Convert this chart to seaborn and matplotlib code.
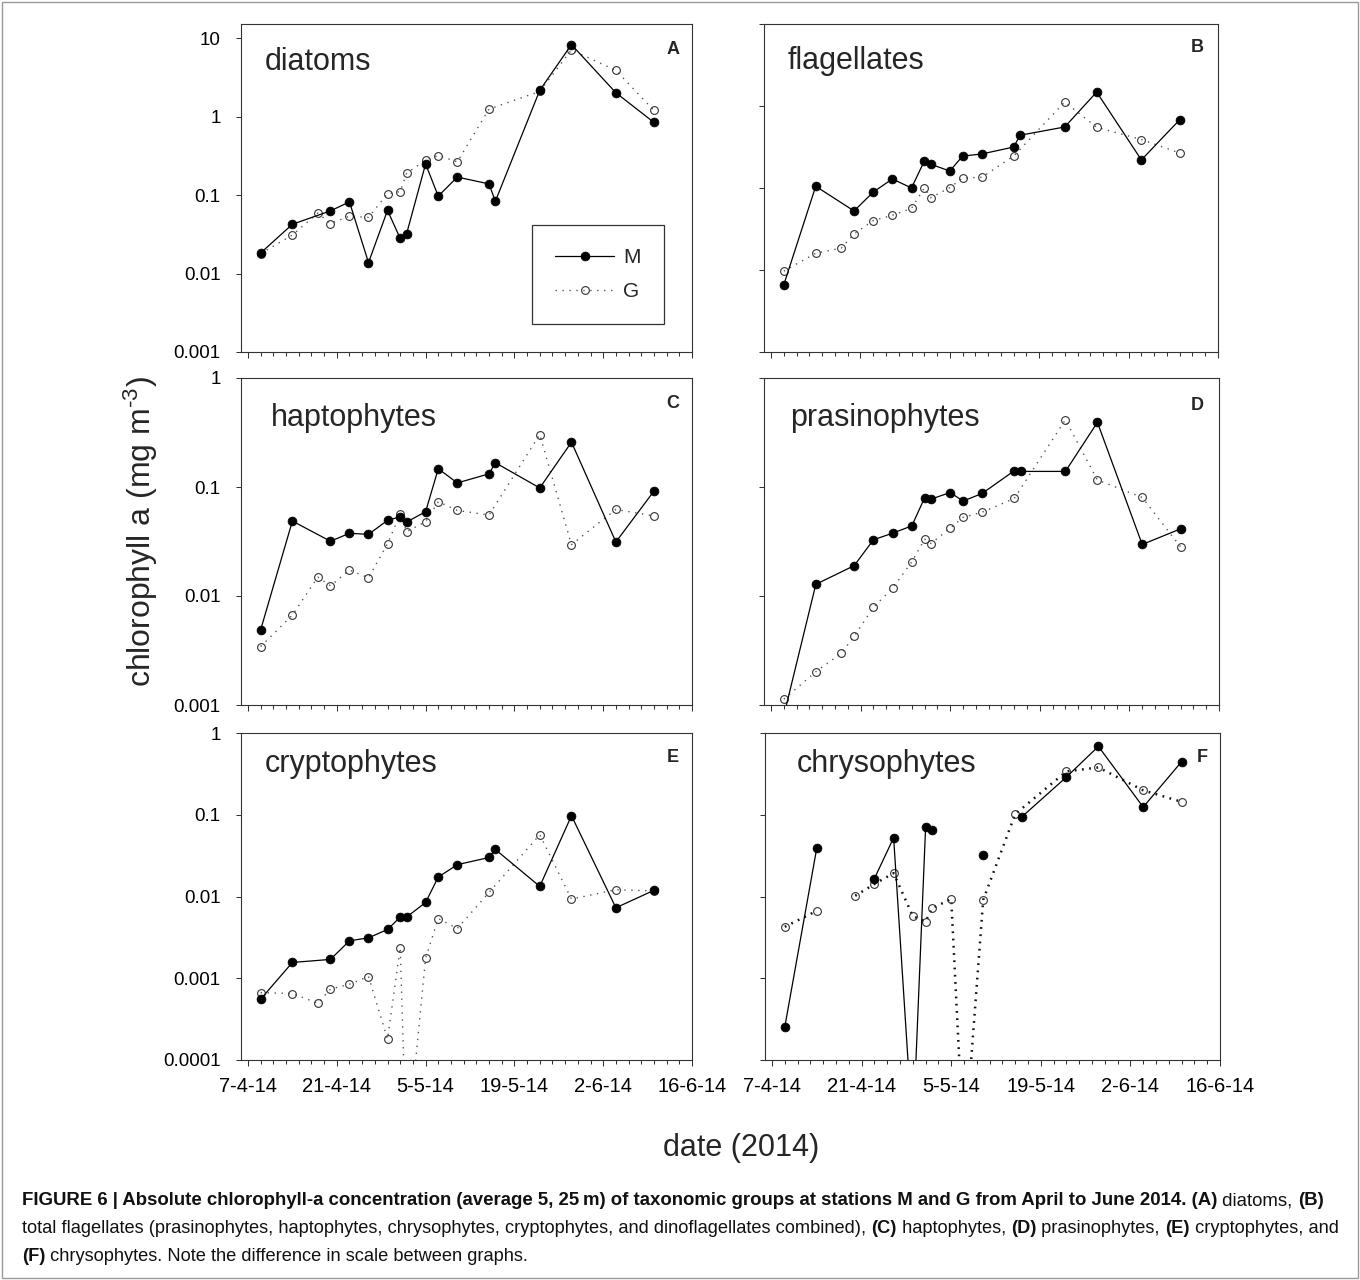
import numpy as np
import pandas as pd
import matplotlib
matplotlib.use("Agg")
import matplotlib.pyplot as plt
import matplotlib.dates as mdates
from matplotlib.ticker import FixedLocator, NullFormatter, FuncFormatter, NullLocator
from matplotlib.lines import Line2D
from matplotlib.patches import Rectangle
import seaborn as sns

# ---------------- data ----------------
m_dates = ["2014-04-09", "2014-04-14", "2014-04-20", "2014-04-23", "2014-04-26",
           "2014-04-29", "2014-05-01", "2014-05-02", "2014-05-05", "2014-05-07",
           "2014-05-10", "2014-05-15", "2014-05-16", "2014-05-23", "2014-05-28",
           "2014-06-04", "2014-06-10"]
g_dates = ["2014-04-09", "2014-04-14", "2014-04-18", "2014-04-20", "2014-04-23",
           "2014-04-26", "2014-04-29", "2014-05-01", "2014-05-02", "2014-05-05",
           "2014-05-07", "2014-05-10", "2014-05-15", "2014-05-23", "2014-05-28",
           "2014-06-04", "2014-06-10"]

panel_names = ["diatoms", "flagellates", "haptophytes", "prasinophytes",
               "cryptophytes", "chrysophytes"]
panel_letters = ["A", "B", "C", "D", "E", "F"]
station_labels = ["M", "G"]

diatoms_M = [0.0183, 0.0425, 0.063, 0.082, 0.0138, 0.064, 0.028, 0.032, 0.25,
             0.097, 0.17, 0.139, 0.0835, 2.17, 8.3, 2.02, 0.845]
diatoms_G = [0.018, 0.031, 0.059, 0.0434, 0.054, 0.052, 0.104, 0.111, 0.19,
             0.28, 0.32, 0.266, 1.25, 2.1, 7.1, 3.9, 1.2]

flagellates_M = [0.0066, 0.105, 0.0525, 0.089, 0.129, 0.1, 0.213, 0.195, 0.161,
                 0.245, 0.26, 0.316, 0.44, 0.555, 1.48, 0.22, 0.68]
flagellates_G = [0.0097, 0.016, 0.0185, 0.0275, 0.040, 0.0465, 0.0565, 0.1, 0.076,
                 0.101, 0.132, 0.135, 0.245, 1.12, 0.55, 0.39, 0.267]

haptophytes_M = [0.0049, 0.0487, 0.0318, 0.0376, 0.0368, 0.0494, 0.0533, 0.0477,
                 0.0593, 0.147, 0.109, 0.132, 0.167, 0.098, 0.258, 0.0313, 0.0917]
haptophytes_G = [0.00344, 0.00667, 0.0149, 0.0124, 0.0173, 0.0147, 0.0302, 0.0565,
                 0.0389, 0.048, 0.0732, 0.061, 0.0553, 0.303, 0.0296, 0.0623, 0.0542]

prasinophytes_M = [0.0008, 0.0128, 0.019, 0.0328, 0.0377, 0.044, 0.0796, 0.0774,
                   0.089, 0.0743, 0.0873, 0.141, 0.139, 0.139, 0.392, 0.0297, 0.0413]
prasinophytes_G = [0.00113, 0.00202, 0.00299, 0.00428, 0.00789, 0.0118, 0.0206,
                   0.0332, 0.0303, 0.042, 0.0526, 0.0588, 0.0785, 0.414, 0.116,
                   0.0802, 0.0282]

cryptophytes_M = [0.000555, 0.00156, 0.0017, 0.00287, 0.00312, 0.00395, 0.0056,
                  0.0056, 0.00845, 0.0173, 0.0245, 0.030, 0.0376, 0.0133, 0.0973,
                  0.00728, 0.0119]
cryptophytes_G = [0.000668, 0.00065, 0.000495, 0.000735, 0.000847, 0.00105, 0.00018,
                  0.00236, 0.000007, 0.00176, 0.00538, 0.00406, 0.0112, 0.0569,
                  0.0093, 0.0121, 0.0117]

chrysophytes_M = [0.000256, 0.0395, np.nan, 0.0166, 0.0523, 0.000012, 0.0713, 0.0643,
                  np.nan, np.nan, 0.0318, np.nan, 0.0937, 0.289, 0.686, 0.124, 0.446]
chrysophytes_G = [0.00426, 0.00668, np.nan, 0.0102, 0.0142, 0.0193, 0.00574, 0.00494,
                  0.0072, 0.0093, 0.000007, 0.0091, 0.102, 0.339, 0.379, 0.199, 0.144]

y_ranges = [(0.001, 15.2), (0.001, 10), (0.001, 1), (0.001, 1), (0.0001, 1), (0.0001, 1)]

x_major_labels_dates = pd.date_range("2014-04-07", "2014-06-16", freq="14D")

caption_lines = [
    [("FIGURE 6 | Absolute chlorophyll-a concentration (average 5, 25\u2009m) of taxonomic groups at stations M and G from April to June 2014. (A)", True),
     (" diatoms, ", False), ("(B)", True)],
    [("total flagellates (prasinophytes, haptophytes, chrysophytes, cryptophytes, and dinoflagellates combined), ", False),
     ("(C)", True), (" haptophytes, ", False), ("(D)", True), (" prasinophytes, ", False),
     ("(E)", True), (" cryptophytes, and", False)],
    [("(F)", True), (" chrysophytes. Note the difference in scale between graphs.", False)],
]

series_M = [diatoms_M, flagellates_M, haptophytes_M, prasinophytes_M, cryptophytes_M, chrysophytes_M]
series_G = [diatoms_G, flagellates_G, haptophytes_G, prasinophytes_G, cryptophytes_G, chrysophytes_G]

# ---------------- style / layout ----------------
sns.set_style("ticks")
plt.rcParams["font.family"] = ["Liberation Sans", "DejaVu Sans"]
plt.rcParams["axes.linewidth"] = 0.8
plt.rcParams["mathtext.fontset"] = "custom"
plt.rcParams["mathtext.rm"] = "Liberation Sans"
plt.rcParams["mathtext.it"] = "Liberation Sans:italic"
plt.rcParams["mathtext.bf"] = "Liberation Sans:bold"

W, H = 1360, 1280
fig = plt.figure(figsize=(W / 100, H / 100), dpi=100, facecolor="white")

boxes = [(241, 24, 692, 352), (764, 24, 1218, 352),
         (241, 378, 692, 705), (764, 378, 1219, 705),
         (241, 733, 692, 1060), (765, 733, 1220, 1060)]
name_pos = [(265, 70), (788, 69), (271, 426), (790, 426), (265, 772), (797, 772)]
letter_pos = [(673, 49), (1197, 47), (673, 404), (1197, 406), (673, 757), (1202, 757)]

SPINE = "#333333"
M_STYLE = dict(color="black", linestyle="-", linewidth=0.9, marker="o", markersize=6.4,
               markerfacecolor="black", markeredgecolor="black", markeredgewidth=0.5)
G_STYLE = dict(color="#555555", linestyle=(0, (1, 4)), linewidth=1.0, marker="o",
               markersize=5.6, markerfacecolor="none", markeredgecolor="#333333",
               markeredgewidth=0.8)
G_STYLE_F = dict(G_STYLE, color="#111111", linestyle=(0, (0.7, 2.2)), linewidth=1.8)

x0 = mdates.date2num(pd.Timestamp("2014-04-07")) - 1.1
x1 = mdates.date2num(pd.Timestamp("2014-06-16"))
major_x = mdates.date2num(x_major_labels_dates)
minor_x = mdates.date2num(pd.date_range("2014-04-07", "2014-06-16", freq="2D"))


def draw_series(ax, dates, vals, style):
    d = pd.DataFrame({"date": pd.to_datetime(dates), "val": np.array(vals, dtype=float)})
    d["seg"] = d["val"].isna().cumsum()
    d = d.dropna()
    sns.lineplot(data=d, x="date", y="val", units="seg", estimator=None, ax=ax,
                 legend=False, **style)


axes = []
for i, (l, t, r, b) in enumerate(boxes):
    ax = fig.add_axes([l / W, 1 - b / H, (r - l) / W, (b - t) / H])
    axes.append(ax)
    ax.set_yscale("log")
    draw_series(ax, g_dates, series_G[i], G_STYLE_F if i == 5 else G_STYLE)
    draw_series(ax, m_dates, series_M[i], M_STYLE)
    lo, hi = y_ranges[i]
    ax.set_ylim(lo, hi)
    ax.set_xlim(x0, x1)
    ax.set_xlabel("")
    ax.set_ylabel("")
    decades = [10.0 ** k for k in range(-6, 3) if lo * 0.999 <= 10.0 ** k <= hi * 1.001]
    ax.yaxis.set_major_locator(FixedLocator(decades))
    ax.yaxis.set_minor_locator(NullLocator())
    if i % 2 == 0:
        ax.yaxis.set_major_formatter(FuncFormatter(lambda v, p: "{:g}".format(v)))
    else:
        ax.yaxis.set_major_formatter(NullFormatter())
    ax.xaxis.set_major_locator(FixedLocator(major_x))
    ax.xaxis.set_minor_locator(FixedLocator(minor_x))
    if i >= 4:
        ax.xaxis.set_major_formatter(mdates.DateFormatter("%-d-%-m-%y"))
    else:
        ax.xaxis.set_major_formatter(NullFormatter())
    ax.xaxis.set_minor_formatter(NullFormatter())
    ax.tick_params(axis="y", which="major", direction="out", length=3.6, width=0.75,
                   pad=11, labelsize=13.5, color=SPINE, labelcolor="black")
    ax.tick_params(axis="x", which="major", direction="out", length=4.3, width=0.75,
                   pad=8, labelsize=14.5, color=SPINE, labelcolor="black")
    ax.tick_params(axis="x", which="minor", direction="out", length=2.9, width=0.75,
                   color=SPINE)
    for sp in ax.spines.values():
        sp.set_visible(True)
        sp.set_color(SPINE)
        sp.set_linewidth(0.8)
    ax.set_facecolor("white")

# legend in panel A
axA = axes[0]
handles = [Line2D([], [], **M_STYLE), Line2D([], [], **G_STYLE)]
leg = axA.legend(handles, station_labels, loc="upper left",
                 bbox_to_anchor=((532 - 241) / 451, (352 - 225) / 328),
                 borderaxespad=0, fontsize=15, numpoints=1, handlelength=2.8,
                 handletextpad=0.45, labelspacing=0.7, borderpad=1.12,
                 fancybox=False, framealpha=1, edgecolor="#333333")
leg.get_frame().set_linewidth(0.9)

# overlay axes for text in pixel coordinates
ov = fig.add_axes([0, 0, 1, 1], zorder=10)
ov.set_xlim(0, W)
ov.set_ylim(H, 0)
ov.set_axis_off()
ov.patch.set_visible(False)

for i in range(6):
    ov.text(name_pos[i][0], name_pos[i][1], panel_names[i], fontsize=22,
            ha="left", va="baseline")
    ov.text(letter_pos[i][0], letter_pos[i][1], panel_letters[i], fontsize=13,
            fontweight="bold", ha="center", va="center")

ov.text(141, 531, r"chlorophyll a (mg m$^{\text{-3}}$)", fontsize=23, rotation=90,
        ha="center", va="center")
ov.text(741, 1148, "date (2014)", fontsize=22, ha="center", va="center")

# outer frame
ov.add_patch(Rectangle((2, 2), W - 4, H - 4, fill=False, edgecolor="#999999",
                       linewidth=1.0, clip_on=False))

# caption
CAPFONT = ["Liberation Sans Narrow", "Liberation Sans", "DejaVu Sans"]
renderer = fig.canvas.get_renderer()
baselines = [1205, 1233, 1261]


def place_line(li, fs):
    arts = []
    first = prev = None
    for s, bold in caption_lines[li]:
        kw = dict(fontsize=fs, fontweight="bold" if bold else "normal",
                  family=CAPFONT, color="#111111")
        if prev is None:
            prev = ov.text(22, baselines[li], s, ha="left", va="baseline", **kw)
            first = prev
        else:
            prev = ov.annotate(s, xy=(1, 0), xycoords=prev, ha="left",
                               va="bottom", **kw)
        arts.append(prev)
    fig.canvas.draw()
    width = prev.get_window_extent(renderer).x1 - first.get_window_extent(renderer).x0
    return arts, width


target = 1313.0
sizes = []
for li in range(2):
    arts, w = place_line(li, 11.0)
    for a in arts:
        a.remove()
    sizes.append(11.0 * target / w)
sizes.append(sizes[1])
for li in range(3):
    place_line(li, sizes[li])

fig.savefig("out.png", dpi=100, facecolor="white")
